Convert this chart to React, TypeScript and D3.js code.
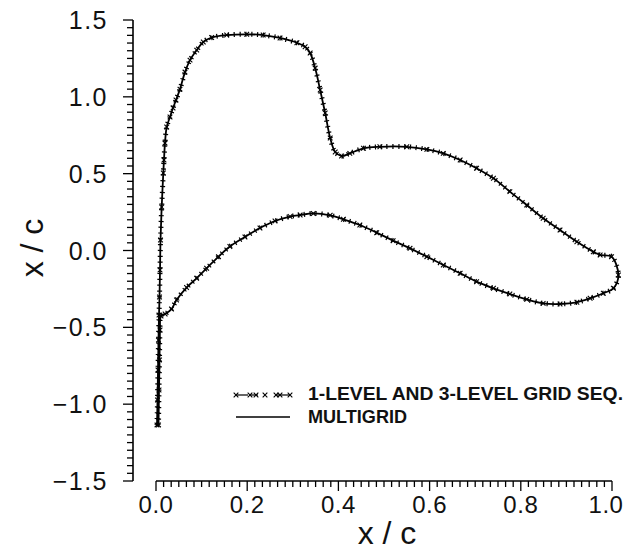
import React from "react";
import * as d3 from "d3";

// Contour (x/c, x/c), starting at the lower tip,
// going up the upper branch, around the right end and back along the lower branch.
const contourX = [
  0.0022, 0.0033, 0.0044, 0.0055, 0.0066, 0.0077, 0.0088, 0.0099, 0.0125, 0.016,
  0.0175, 0.0197, 0.0235, 0.0307, 0.0373, 0.0439, 0.0526, 0.0636, 0.0746, 0.0893,
  0.1037, 0.122, 0.155, 0.199, 0.235, 0.272, 0.309, 0.327, 0.338, 0.349,
  0.36, 0.371, 0.382, 0.393, 0.407, 0.425, 0.455, 0.491, 0.55, 0.594,
  0.63, 0.667, 0.703, 0.74, 0.776, 0.813, 0.849, 0.886, 0.923, 0.959,
  0.974, 0.999, 1.014, 1.003, 0.981, 0.952, 0.923, 0.886, 0.849, 0.813,
  0.776, 0.74, 0.703, 0.667, 0.63, 0.594, 0.557, 0.52, 0.484, 0.447,
  0.411, 0.382, 0.345, 0.316, 0.294, 0.261, 0.228, 0.195, 0.162, 0.137,
  0.111, 0.089, 0.067, 0.045, 0.034, 0.02, 0.011, 0.0088, 0.0077, 0.0066,
  0.0055,
];
const contourY = [
  -1.135, -0.973, -0.778, -0.583, -0.42, -0.303, -0.127, 0.068, 0.283, 0.504,
  0.589, 0.699, 0.804, 0.869, 0.927, 0.979, 1.05, 1.161, 1.239, 1.304,
  1.357, 1.386, 1.402, 1.407, 1.402, 1.383, 1.352, 1.326, 1.285, 1.187,
  1.044, 0.895, 0.732, 0.641, 0.615, 0.632, 0.665, 0.675, 0.675, 0.658,
  0.632, 0.589, 0.535, 0.47, 0.383, 0.296, 0.21, 0.133, 0.057, -0.008,
  -0.029, -0.04, -0.159, -0.246, -0.278, -0.311, -0.337, -0.348, -0.344, -0.318,
  -0.283, -0.246, -0.203, -0.148, -0.094, -0.04, 0.014, 0.064, 0.116, 0.166,
  0.203, 0.229, 0.241, 0.231, 0.221, 0.192, 0.146, 0.088, 0.026, -0.04,
  -0.116, -0.181, -0.241, -0.322, -0.381, -0.413, -0.426, -0.517, -0.712, -0.908,
  -1.135,
];

const xTickLabels = ["0.0", "0.2", "0.4", "0.6", "0.8", "1.0"];
const xTickValues = [0, 0.2, 0.4, 0.6, 0.8, 1.0];
const yTickLabels = ["\u22121.5", "\u22121.0", "\u22120.5", "0.0", "0.5", "1.0", "1.5"];
const yTickValues = [-1.5, -1.0, -0.5, 0, 0.5, 1.0, 1.5];
const legendLabels = ["1-LEVEL AND 3-LEVEL GRID SEQ.", "MULTIGRID"];

const W = 629;
const H = 551;
const FONT = "'Liberation Sans', Arial, Helvetica, sans-serif";

export default function App() {
  const x = d3.scaleLinear().domain([0, 1]).range([156, 612]);
  const y = d3.scaleLinear().domain([-1.5, 1.5]).range([481, 20]);
  const axisX = 133;
  const axisY = 481;

  const pts: [number, number][] = contourX.map((v, i) => [v, contourY[i]]);
  const line = d3
    .line<[number, number]>()
    .x((d) => x(d[0]))
    .y((d) => y(d[1]))
    .curve(d3.curveCatmullRom.alpha(0.5));
  const pathD = line(pts) || "";
  const sym = d3.symbol().type(d3.symbolX).size(16)() || "";

  const yMinor = d3.range(0, 61).map((i) => -1.5 + i * 0.05);
  const xMinor = d3.range(0, 61).map((i) => i / 60);

  return (
    <svg
      width={W}
      height={H}
      style={{ position: "absolute", left: 0, top: 0, background: "#fff" }}
    >
      <rect x={0} y={0} width={W} height={H} fill="#fff" />
      {/* Y axis */}
      <line x1={axisX} x2={axisX} y1={y(1.5)} y2={y(-1.5)} stroke="#000" strokeWidth={1.6} />
      {yMinor.map((v, i) => {
        const major = i % 10 === 0;
        return (
          <line
            key={"yt" + i}
            x1={axisX}
            x2={axisX - (major ? 10 : 6)}
            y1={y(v)}
            y2={y(v)}
            stroke="#000"
            strokeWidth={1.3}
          />
        );
      })}
      {yTickValues.map((v, i) => (
        <text
          key={"yl" + i}
          x={108}
          y={y(v)}
          dy="0.36em"
          textAnchor="end"
          fontFamily={FONT}
          fontSize={25}
          letterSpacing={1.5}
          fill="#111"
        >
          {yTickLabels[i]}
        </text>
      ))}
      {/* X axis */}
      <line x1={x(0)} x2={x(1)} y1={axisY} y2={axisY} stroke="#000" strokeWidth={1.6} />
      {xMinor.map((v, i) => {
        const major = i % 12 === 0;
        return (
          <line
            key={"xt" + i}
            x1={x(v)}
            x2={x(v)}
            y1={axisY}
            y2={axisY + (major ? 10 : 6)}
            stroke="#000"
            strokeWidth={1.3}
          />
        );
      })}
      {xTickValues.map((v, i) => (
        <text
          key={"xl" + i}
          x={Math.min(x(v), 606)}
          y={513}
          textAnchor="middle"
          fontFamily={FONT}
          fontSize={24}
          letterSpacing={0.5}
          fill="#111"
        >
          {xTickLabels[i]}
        </text>
      ))}
      {/* Axis titles */}
      <text
        x={387}
        y={544}
        textAnchor="middle"
        fontFamily={FONT}
        fontSize={32}
        fill="#111"
      >
        x / c
      </text>
      <text
        transform={`translate(43,248) rotate(-90)`}
        textAnchor="middle"
        fontFamily={FONT}
        fontSize={32}
        fill="#111"
      >
        x / c
      </text>
      {/* Multigrid line */}
      <path d={pathD} fill="none" stroke="#000" strokeWidth={1.8} strokeLinejoin="round" />
      {/* Grid sequencing markers */}
      <path
        d={pathD}
        fill="none"
        stroke="#000"
        strokeWidth={5}
        strokeDasharray="1.2 4.6"
      />
      {pts.map((d, i) => (
        <path
          key={"m" + i}
          d={sym}
          transform={`translate(${x(d[0])},${y(d[1])})`}
          stroke="#000"
          strokeWidth={1.1}
          fill="none"
        />
      ))}
      {/* Legend */}
      <g>
        <line x1={236} x2={248} y1={395} y2={395} stroke="#000" strokeWidth={1.2} />
        <line x1={250} x2={258} y1={395} y2={395} stroke="#000" strokeWidth={1.2} />
        <line x1={276} x2={290} y1={395} y2={395} stroke="#000" strokeWidth={1.2} />
        {[236, 250, 256, 265, 276, 280, 290].map((px, i) => (
          <path
            key={"lm" + i}
            d={sym}
            transform={`translate(${px},395)`}
            stroke="#000"
            strokeWidth={1.1}
            fill="none"
          />
        ))}
        <line x1={236} x2={290} y1={417} y2={417} stroke="#000" strokeWidth={1.4} />
        <text
          x={308}
          y={400}
          fontFamily={FONT}
          fontSize={19}
          fontWeight="bold"
          textLength={315}
          lengthAdjust="spacingAndGlyphs"
          fill="#111"
        >
          {legendLabels[0]}
        </text>
        <text
          x={308}
          y={423}
          fontFamily={FONT}
          fontSize={18.5}
          fontWeight="bold"
          textLength={99}
          lengthAdjust="spacingAndGlyphs"
          fill="#111"
        >
          {legendLabels[1]}
        </text>
      </g>
    </svg>
  );
}
